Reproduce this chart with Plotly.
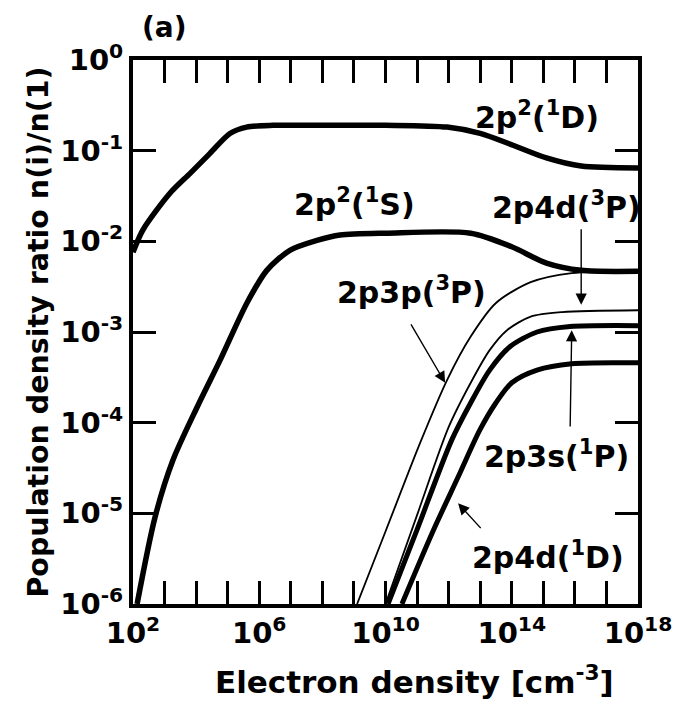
import plotly.graph_objects as go

# ---- data: log10(electron density) and log10(population ratio) ----
d1D_x = [2.0, 2.32, 3.17, 3.81, 4.44, 5.07, 5.6, 6.44, 8.0, 10.0, 11.95, 13.0, 14.04, 15.1, 16.2, 18.0]
d1D_y = [-2.12, -1.87, -1.47, -1.25, -1.03, -0.81, -0.74, -0.72, -0.72, -0.72, -0.74, -0.81, -0.94, -1.08, -1.17, -1.19]

s1S_x = [2.13, 2.70, 3.27, 4.03, 4.76, 5.61, 6.24, 6.97, 7.83, 8.56, 10.0, 12.7, 14.0, 15.1, 16.2, 18.0]
s1S_y = [-6.0, -5.04, -4.41, -3.83, -3.31, -2.68, -2.32, -2.10, -1.99, -1.93, -1.91, -1.91, -2.06, -2.24, -2.32, -2.33]

p3p_x = [9.1, 10.0, 11.1, 11.95, 12.7, 13.5, 14.6, 15.9, 18.0]
p3p_y = [-6.0, -5.2, -4.22, -3.53, -3.05, -2.68, -2.45, -2.35, -2.33]

d4d3P_x = [10.0, 11.0, 12.0, 12.7, 13.3, 13.85, 14.6, 15.6, 18.0]
d4d3P_y = [-6.0, -5.02, -4.05, -3.56, -3.2, -2.98, -2.83, -2.78, -2.76]

s3s_x = [10.08, 11.0, 12.1, 12.7, 13.3, 13.95, 14.8, 15.85, 18.0]
s3s_y = [-6.0, -5.18, -4.19, -3.78, -3.42, -3.16, -3.0, -2.94, -2.93]

d4d1D_x = [10.52, 11.5, 12.3, 12.99, 13.5, 14.0, 14.8, 15.9, 18.0]
d4d1D_y = [-6.0, -5.2, -4.6, -4.08, -3.78, -3.56, -3.42, -3.35, -3.34]

x_tick_exp = list(range(2, 19))
x_label_exp = [2, 6, 10, 14, 18]
y_tick_exp = [0, -1, -2, -3, -4, -5, -6]

FONT = "DejaVu Sans"

def pw(v):
    return [10 ** e for e in v]

series = [
    ("2p2(1D)", d1D_x, d1D_y, 5.5),
    ("2p2(1S)", s1S_x, s1S_y, 5.5),
    ("2p3p(3P)", p3p_x, p3p_y, 1.8),
    ("2p4d(3P)", d4d3P_x, d4d3P_y, 1.8),
    ("2p3s(1P)", s3s_x, s3s_y, 5.0),
    ("2p4d(1D)", d4d1D_x, d4d1D_y, 5.0),
]

fig = go.Figure()
for name, xs, ys, w in series:
    fig.add_trace(go.Scatter(
        x=pw(xs), y=pw(ys), mode="lines", name=name,
        line=dict(color="black", width=w, shape="spline", smoothing=0.8),
        showlegend=False, hoverinfo="skip"))

tfont = dict(family=FONT, size=29, color="black", weight="bold")

fig.update_xaxes(
    type="log", range=[2, 18],
    tickvals=[10 ** e for e in x_tick_exp],
    ticktext=[("10<sup>%d</sup>" % e) if e in x_label_exp else "" for e in x_tick_exp],
    ticks="inside", ticklen=23, tickwidth=3, tickcolor="black",
    showline=True, linewidth=4, linecolor="black", mirror="ticks",
    showgrid=False, zeroline=False, tickfont=tfont,
)
fig.update_yaxes(
    type="log", range=[-6, 0],
    tickvals=[10 ** e for e in y_tick_exp],
    ticktext=["10<sup>%d</sup>" % e for e in y_tick_exp],
    ticks="inside", ticklen=23, tickwidth=3, tickcolor="black",
    showline=True, linewidth=4, linecolor="black", mirror="ticks",
    showgrid=False, zeroline=False, tickfont=tfont,
    title=dict(text="Population density ratio n(i)/n(1)",
               font=dict(family=FONT, size=28.5, color="black", weight="bold"), standoff=4),
)

afont = dict(family=FONT, size=30, color="black", weight="bold")
labels = [
    ("2p<sup>2</sup>(<sup>1</sup>D)", 14.8, -0.61),
    ("2p<sup>2</sup>(<sup>1</sup>S)", 9.03, -1.57),
    ("2p4d(<sup>3</sup>P)", 15.75, -1.60),
    ("2p3p(<sup>3</sup>P)", 10.81, -2.54),
    ("2p3s(<sup>1</sup>P)", 15.43, -4.35),
    ("2p4d(<sup>1</sup>D)", 15.15, -5.46),
]
for txt, lx, ly in labels:
    fig.add_annotation(x=lx, y=ly, xref="x", yref="y", text=txt, showarrow=False,
                       font=afont, xanchor="center", yanchor="middle")

arrows = [
    (11.89, -3.56, 10.78, -2.90),
    (16.2, -2.70, 16.2, -1.85),
    (15.9, -2.98, 15.85, -4.06),
    (12.3, -4.89, 13.06, -5.18),
]
for tx, ty, sx, sy in arrows:
    fig.add_annotation(x=tx, y=ty, ax=sx, ay=sy, xref="x", yref="y", axref="x", ayref="y",
                       text="", showarrow=True, arrowhead=2, arrowsize=1.6, arrowwidth=1.4,
                       arrowcolor="black", standoff=0, startstandoff=0)

# panel label and x-axis title
fig.add_annotation(xref="paper", yref="paper", x=(140 - 133) / 505, y=1 + (60 - 27) / 544,
                   xanchor="left", yanchor="middle", text="(a)", showarrow=False,
                   font=dict(family=FONT, size=28, color="black", weight="bold"))
fig.add_annotation(xref="paper", yref="paper", x=(414 - 133) / 505, y=-(680 - 604) / 544,
                   xanchor="center", yanchor="middle", showarrow=False,
                   text="Electron density [cm<sup>-3</sup>]",
                   font=dict(family=FONT, size=31, color="black", weight="bold"))

fig.update_layout(
    width=683, height=708,
    margin=dict(l=133, r=45, t=60, b=104),
    paper_bgcolor="white", plot_bgcolor="white",
)

fig.write_html("out.html")
